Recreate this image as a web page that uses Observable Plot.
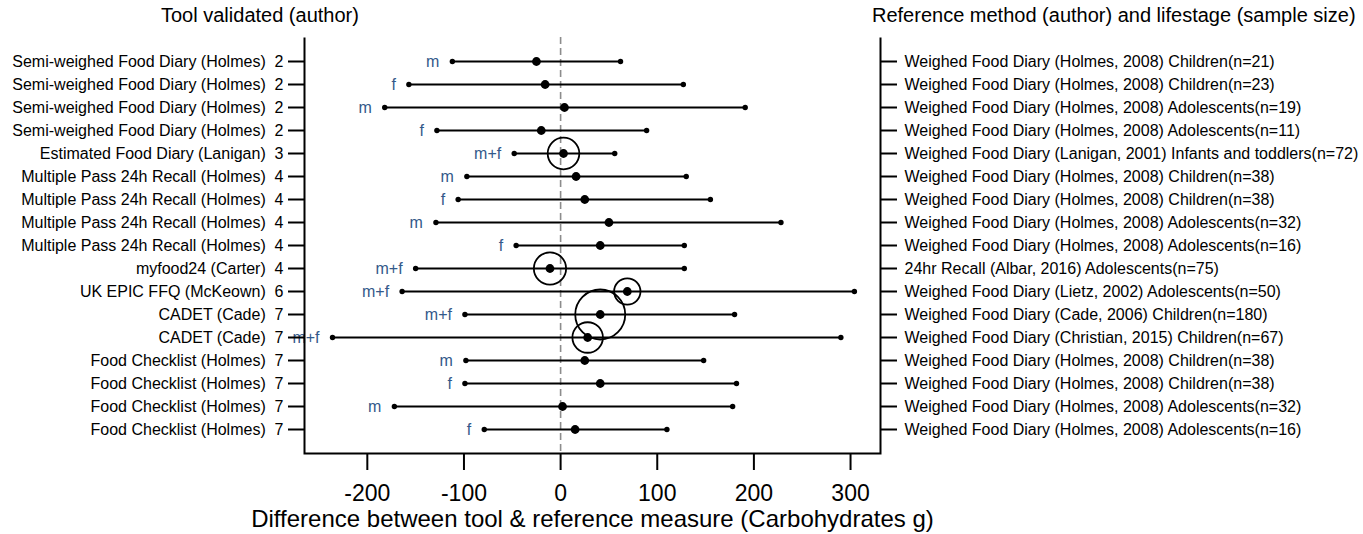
<!DOCTYPE html>
<html>
<head>
<meta charset="utf-8">
<script src="https://cdn.jsdelivr.net/npm/d3@7"></script>
<script src="https://cdn.jsdelivr.net/npm/@observablehq/plot@0.6"></script>
<style>
  html, body { margin: 0; padding: 0; background: #fff; }
  #wrap { position: relative; width: 1363px; height: 534px; font-family: "Liberation Sans", Arial, sans-serif; }
  .title { position: absolute; top: 3px; font-size: 20px; line-height: 24px; white-space: nowrap; color: #000; z-index: 2; }
  #chart { position: absolute; left: 0; top: 0; z-index: 1; }
</style>
</head>
<body>
<div id="wrap">
  <div class="title" id="t1">Tool validated (author)</div>
  <div class="title" id="t2">Reference method (author) and lifestage (sample size)</div>
  <div id="chart"></div>
</div>
<script>
const toolLabels = [
  "Semi-weighed Food Diary (Holmes)  2",
  "Semi-weighed Food Diary (Holmes)  2",
  "Semi-weighed Food Diary (Holmes)  2",
  "Semi-weighed Food Diary (Holmes)  2",
  "Estimated Food Diary (Lanigan)  3",
  "Multiple Pass 24h Recall (Holmes)  4",
  "Multiple Pass 24h Recall (Holmes)  4",
  "Multiple Pass 24h Recall (Holmes)  4",
  "Multiple Pass 24h Recall (Holmes)  4",
  "myfood24 (Carter)  4",
  "UK EPIC FFQ (McKeown)  6",
  "CADET (Cade)  7",
  "CADET (Cade)  7",
  "Food Checklist (Holmes)  7",
  "Food Checklist (Holmes)  7",
  "Food Checklist (Holmes)  7",
  "Food Checklist (Holmes)  7"
];
const refLabels = [
  "Weighed Food Diary (Holmes, 2008) Children(n=21)",
  "Weighed Food Diary (Holmes, 2008) Children(n=23)",
  "Weighed Food Diary (Holmes, 2008) Adolescents(n=19)",
  "Weighed Food Diary (Holmes, 2008) Adolescents(n=11)",
  "Weighed Food Diary (Lanigan, 2001) Infants and toddlers(n=72)",
  "Weighed Food Diary (Holmes, 2008) Children(n=38)",
  "Weighed Food Diary (Holmes, 2008) Children(n=38)",
  "Weighed Food Diary (Holmes, 2008) Adolescents(n=32)",
  "Weighed Food Diary (Holmes, 2008) Adolescents(n=16)",
  "24hr Recall (Albar, 2016) Adolescents(n=75)",
  "Weighed Food Diary (Lietz, 2002) Adolescents(n=50)",
  "Weighed Food Diary (Cade, 2006) Children(n=180)",
  "Weighed Food Diary (Christian, 2015) Children(n=67)",
  "Weighed Food Diary (Holmes, 2008) Children(n=38)",
  "Weighed Food Diary (Holmes, 2008) Children(n=38)",
  "Weighed Food Diary (Holmes, 2008) Adolescents(n=32)",
  "Weighed Food Diary (Holmes, 2008) Adolescents(n=16)"
];
const sexLabels = ["m","f","m","f","m+f","m","f","m","f","m+f","m+f","m+f","m+f","m","f","m","f"];
const sampleSize = [21,23,19,11,72,38,38,32,16,75,50,180,67,38,38,32,16];
const meanDiff = [-25,-16,4,-20,3,16,25,50,41,-11,69,41,28,25,41,2,15];
const lowerLoA = [-112,-157,-182,-128,-48,-97,-106,-129,-46,-150,-164,-99,-236,-98,-99,-172,-79];
const upperLoA = [62,127,191,89,56,130,155,228,128,128,304,180,290,148,182,178,110];
const xTicks = [-200,-100,0,100,200,300];
const xTitle = "Difference between tool & reference measure (Carbohydrates g)";

const rows = toolLabels.map((t, i) => ({
  i, tool: t, ref: refLabels[i], sex: sexLabels[i], n: sampleSize[i],
  mean: meanDiff[i], lo: lowerLoA[i], hi: upperLoA[i]
}));
const pooled = rows.filter(d => d.sex === "m+f");

const W = 1363, H = 534;
const mL = 304, mR = 483, mT = 37, mB = 81;
const fw = W - mL - mR, fh = H - mT - mB;
const labelBlue = "#33598a";
const lblSize = 16;

const chart = Plot.plot({
  width: W, height: H,
  marginLeft: mL, marginRight: mR, marginTop: mT, marginBottom: mB,
  style: { fontFamily: '"Liberation Sans", Arial, sans-serif', background: "transparent", color: "#000" },
  x: { domain: [-265, 331] },
  y: { type: "point", domain: d3.range(rows.length), padding: 1.03 },
  r: { type: "sqrt", domain: [0, 180], range: [0, 25] },
  marks: [
    Plot.ruleX([0], { stroke: "#8c8c8c", strokeWidth: 1.6, strokeDasharray: "7,4" }),
    Plot.ruleY(rows, { y: "i", x1: "lo", x2: "hi", stroke: "#000", strokeWidth: 2 }),
    Plot.dot(rows, { x: "lo", y: "i", r: 2.7, fill: "#000", stroke: null }),
    Plot.dot(rows, { x: "hi", y: "i", r: 2.7, fill: "#000", stroke: null }),
    Plot.dot(rows, { x: "mean", y: "i", r: 4.4, fill: "#000", stroke: null }),
    Plot.dot(pooled, { x: "mean", y: "i", r: "n", fill: "none", stroke: "#000", strokeWidth: 1.8 }),
    Plot.text(rows, { x: "lo", y: "i", text: "sex", textAnchor: "end", dx: -13, fill: labelBlue, fontSize: lblSize }),
    Plot.frame({ stroke: "#000", strokeWidth: 2, strokeDasharray: `0,${fw},${2 * fh + fw + 10}` }),
    Plot.axisY({ anchor: "left", tickSize: 16, tickPadding: 5, strokeWidth: 2, fontSize: lblSize,
      tickFormat: i => toolLabels[i], label: null }),
    Plot.axisY({ anchor: "right", tickSize: 16, tickPadding: 8, strokeWidth: 2, fontSize: lblSize,
      tickFormat: i => refLabels[i], label: null }),
    Plot.axisX({ anchor: "bottom", ticks: xTicks, tickSize: 17, tickPadding: 14, strokeWidth: 2,
      fontSize: 23, tickFormat: d => String(d), label: null }),
    Plot.text([xTitle], { text: d => d, frameAnchor: "bottom", lineAnchor: "bottom", dy: 73, fontSize: 24 })
  ]
});
document.getElementById("chart").appendChild(chart);

// position titles
const t1 = document.getElementById("t1");
const t2 = document.getElementById("t2");
t1.style.left = (260 - t1.offsetWidth / 2) + "px";
t2.style.left = (1356 - t2.offsetWidth) + "px";
</script>
</body>
</html>
